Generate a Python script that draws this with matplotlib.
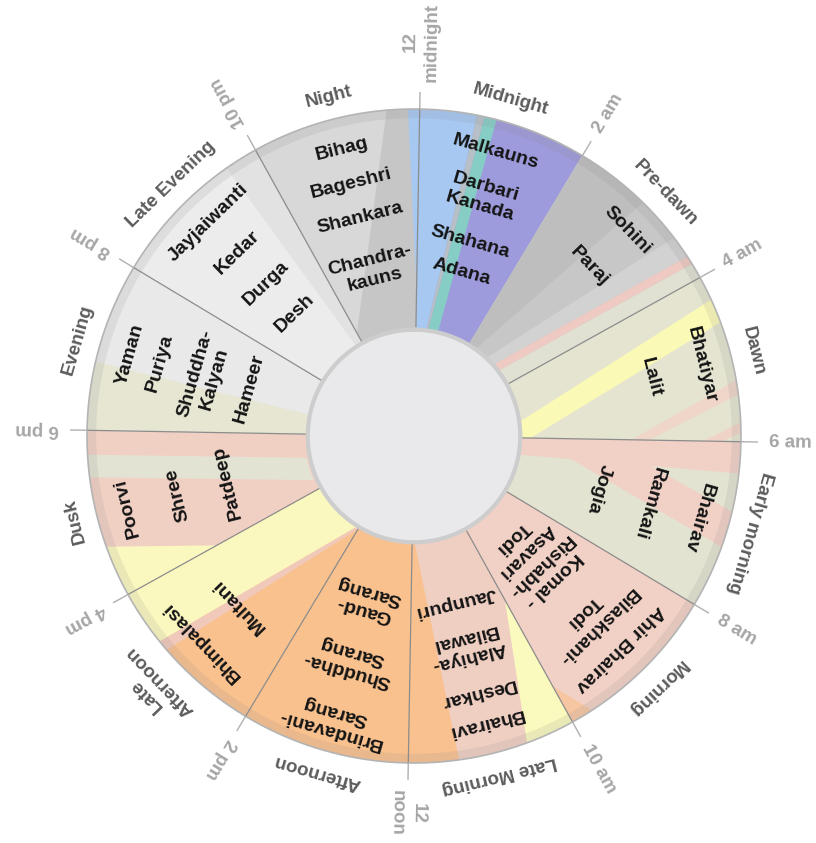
import numpy as np
import matplotlib
matplotlib.use("Agg")
import matplotlib.pyplot as plt

plt.rcParams['font.family'] = ['Liberation Sans', 'DejaVu Sans']

# ---------------- data ----------------
period_names = ["Midnight", "Pre-dawn", "Dawn", "Early morning", "Morning",
                "Late Morning", "Afternoon", "Late\nAfternoon", "Dusk",
                "Evening", "Late Evening", "Night"]
period_start = [0, 2, 4, 6, 8, 10, 12, 14, 16, 18, 20, 22]     # hour of day
period_span = 2
period_base = ["#9d9bdb", "#c7c7c7", "#e4e4d1", "#e2e3d0", "#f1d1c5", "#f0cfc3",
               "#f9c18e", "#f9c18e", "#f1d0c4", "#e9e9e9", "#ececec", "#d8d8d8"]

ragas = [
    ["Malkauns", "Darbari\nKanada", "Shahana", "Adana"],
    ["Sohini", "Paraj"],
    ["Bhatiyar", "Lalit"],
    ["Bhairav", "Ramkali", "Jogia"],
    ["Ahir Bhairav", "Bilaskhani-\nTodi", "Komal -\nRishabh-\nAsavari\nTodi"],
    ["Bhairavi", "Deshkar", "Alahiya-\nBilawal", "Jaunpuri"],
    ["Brindavani-\nSarang", "Shuddha-\nSarang", "Gaud-\nSarang"],
    ["Bhimpalasi", "Multani"],
    ["Poorvi", "Shree", "Patdeep"],
    ["Yaman", "Puriya", "Shuddha-\nKalyan", "Hameer"],
    ["Jayjaiwanti", "Kedar", "Durga", "Desh"],
    ["Bihag", "Bageshri", "Shankara", "Chandra-\nkauns"],
]

hour_ticks = [0, 2, 4, 6, 8, 10, 12, 14, 16, 18, 20, 22]
hour_labels = ["12\nmidnight", "2 am", "4 am", "6 am", "8 am", "10 am",
               "12\nnoon", "2 pm", "4 pm", "6 pm", "8 pm", "10 pm"]
separator_hours = [0, 4, 6, 8, 10, 12, 14, 16, 18, 20, 22]

# colour bands inside each period: (period index, colour, outline in (hour, radius))
band_period = [11, 11,
               0, 0, 0,
               1, 1, 1, 1,
               2, 2, 2,
               3, 3,
               4,
               5, 5,
               7, 7,
               8, 8,
               9,
               10]
band_color = ["#c6c6c6", "#a7c8f1",
              "#a7c8f1", "#b7c0c6", "#86cdc5",
              "#bebebe", "#d2d2d2", "#eecac2", "#e0e0d3",
              "#fbf9b6", "#efd6c9", "#efd3c6",
              "#f1d0c6", "#f1d0c6",
              "#f6c6a2",
              "#fafabf", "#f8c18f",
              "#f1c9bb", "#fbf8bf",
              "#e3e3d3", "#fbf8bf",
              "#e6e6d3",
              "#e2e2e2"]
band_outline = [
    [(23.63, 1.02), (24.6, 1.02), (24.6, 0.30), (22.0, 0.30), (22.0, 0.36)],
    [(23.86, 1.02), (24.3, 1.02), (24.0, 0.45)],
    [(-0.3, 1.02), (0.68, 1.02), (0.38, 0.33), (-0.3, 0.33)],
    [(0.68, 1.02), (0.77, 1.02), (0.45, 0.33), (0.38, 0.33)],
    [(0.77, 1.02), (0.91, 1.02), (0.80, 0.33), (0.45, 0.33)],
    [(1.9, 1.02), (2.9, 1.02), (2.3, 0.33), (1.9, 0.33)],
    [(3.45, 1.02), (3.72, 1.02), (3.15, 0.33), (2.8, 0.33)],
    [(3.72, 1.02), (3.82, 1.02), (3.43, 0.33), (3.15, 0.33)],
    [(3.82, 1.02), (4.2, 1.02), (4.2, 0.33), (3.43, 0.33)],
    [(4.28, 1.02), (4.56, 1.02), (6.2, 0.33), (5.4, 0.33)],
    [(5.25, 1.02), (5.42, 1.02), (6.42, 0.6), (6.25, 0.6)],
    [(5.74, 1.02), (5.86, 1.02), (6.2, 0.85), (6.08, 0.85)],
    [(5.9, 1.02), (6.37, 1.02), (6.6, 0.33), (5.9, 0.33)],
    [(6.85, 1.02), (7.27, 1.02), (6.0, 0.37), (6.0, 0.58)],
    [(9.7, 1.02), (10.2, 1.02), (10.2, 0.8)],
    [(10.0, 1.02), (10.6, 1.02), (8.93, 0.335), (8.5, 0.335)],
    [(11.4, 1.02), (12.3, 1.02), (12.3, 0.33), (11.9, 0.33)],
    [(15.22, 1.02), (15.35, 1.02), (13.9, 0.30), (13.8, 0.30)],
    [(15.35, 1.02), (16.3, 1.02), (16.3, 0.30), (13.9, 0.30)],
    [(17.46, 1.02), (17.72, 1.02), (17.17, 0.335), (16.35, 0.335)],
    [(15.9, 1.02), (16.64, 1.02), (16.0, 0.69)],
    [(17.9, 1.02), (18.81, 1.02), (18.72, 0.377), (18.7, 0.33), (17.9, 0.33)],
    [(21.6, 1.02), (22.2, 1.02), (22.2, 0.33), (21.75, 0.33)],
]

# ---------------- layout / style ----------------
OFFSET = 1.0          # small clockwise rotation of the whole clock (deg)
R_IN = 0.325
W, H = 816, 843
CX, CY, RAD = 414, 436, 327


def th(h):
    return np.asarray(h, dtype=float) / 24.0 * 2 * np.pi


def densify(verts, n=80):
    ths, rs = [], []
    m = len(verts)
    t = np.linspace(0, 1, n, endpoint=False)
    for i in range(m):
        h0, r0 = verts[i]
        h1, r1 = verts[(i + 1) % m]
        if abs(r0 - r1) < 1e-9:
            ths.append(th(h0 + (h1 - h0) * t))
            rs.append(np.full(n, r0))
        else:
            a0, a1 = th(h0), th(h1)
            x = r0 * np.sin(a0) + (r1 * np.sin(a1) - r0 * np.sin(a0)) * t
            y = r0 * np.cos(a0) + (r1 * np.cos(a1) - r0 * np.cos(a0)) * t
            ths.append(np.arctan2(x, y))
            rs.append(np.hypot(x, y))
    return np.concatenate(ths), np.concatenate(rs)


fig = plt.figure(figsize=(W / 100, H / 100), dpi=100)
ax = fig.add_axes([(CX - RAD) / W, (H - CY - RAD) / H, 2 * RAD / W, 2 * RAD / H],
                  projection='polar')
ax.set_theta_zero_location('N', offset=-OFFSET)
ax.set_theta_direction(-1)
ax.set_ylim(0, 1)
ax.axis('off')

# wedges
wedges = []
for k, h0 in enumerate(period_start):
    t_, r_ = densify([(h0, R_IN), (h0, 1.0), (h0 + period_span, 1.0),
                      (h0 + period_span, R_IN)])
    p = ax.fill(t_, r_, facecolor=period_base[k], edgecolor=period_base[k],
                lw=0.5, zorder=1)[0]
    wedges.append(p)

# colour bands
for k, col, outline in zip(band_period, band_color, band_outline):
    t_, r_ = densify(outline)
    p = ax.fill(t_, r_, facecolor=col, lw=0, zorder=2)[0]
    p.set_clip_path(wedges[k])

# rim shading and outer circle
circ = np.linspace(0, 2 * np.pi, 721)
ax.fill(np.concatenate([circ, circ[::-1]]),
        np.concatenate([np.full(721, 0.972), np.full(721, 1.0)]),
        facecolor='#888888', alpha=0.14, lw=0, zorder=3)
ax.plot(circ, np.ones_like(circ), color='#b4b4b4', lw=1.2, zorder=4, clip_on=False)

# separators and ticks
for h in separator_hours:
    ax.plot([th(h), th(h)], [R_IN, 1.0], color='#8c8c8c', lw=0.9, zorder=4)
for h in hour_ticks:
    ax.plot([th(h), th(h)], [1.0, 1.05], color='#b0b0b0', lw=1.0, zorder=4,
            clip_on=False)

# inner circle
ax.fill(circ, np.full_like(circ, R_IN), facecolor='#e9e9eb', lw=0, zorder=5)
ax.plot(circ, np.full_like(circ, R_IN), color='#cdcdcd', lw=3, zorder=5)

# hour labels
for h, lab in zip(hour_ticks, hour_labels):
    ang = h * 15 + OFFSET
    ax.text(th(h), 1.085, lab, rotation=90 - ang, rotation_mode='anchor',
            ha='left', va='center', multialignment='center', linespacing=1.35,
            fontsize=13.5, fontweight='bold', color='#a6a6a6', zorder=6)

# period labels
for k, name in enumerate(period_names):
    hc = period_start[k] + period_span / 2
    ang = hc * 15 + OFFSET
    nl = name.count('\n')
    ax.text(th(hc), 1.07 + 0.04 * nl, name, rotation=-ang, rotation_mode='anchor',
            ha='center', va='center', multialignment='center', linespacing=1.2,
            fontsize=13.5, fontweight='bold', color='#5c5c5c', zorder=6)

# raga labels
R_FIRST, R_RANGE, UNIT_MAX = 0.905, 0.382, 0.159
for k, labels in enumerate(ragas):
    hc = period_start[k] + period_span / 2
    ang = hc * 15 + OFFSET
    lines = [s.count('\n') + 1 for s in labels]
    units = sum((lines[i] + lines[i + 1]) / 2 for i in range(len(lines) - 1))
    unit = min(UNIT_MAX, R_RANGE / units) if units else 0
    r = R_FIRST
    for i, s in enumerate(labels):
        if i > 0:
            r -= unit * (lines[i - 1] + lines[i]) / 2
        ax.text(th(hc), r, s, rotation=-ang, rotation_mode='anchor',
                ha='center', va='center', multialignment='center',
                linespacing=1.2, fontsize=14, fontweight='bold',
                color='#141414', zorder=7)

fig.savefig("out.png", dpi=100, facecolor='white')
